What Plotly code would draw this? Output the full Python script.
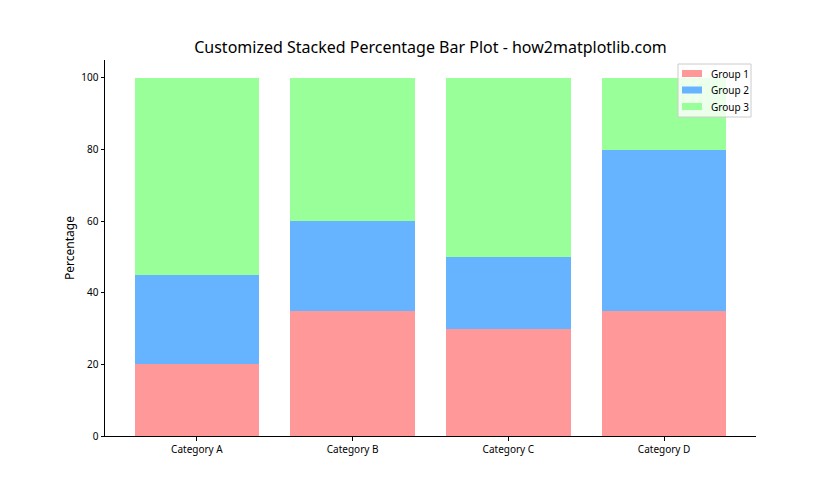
import plotly.graph_objects as go

categories = ["Category A", "Category B", "Category C", "Category D"]
group1 = [20, 35, 30, 35]
group2 = [25, 25, 20, 45]
group3 = [55, 40, 50, 20]
series_names = ["Group 1", "Group 2", "Group 3"]
colors = ["#ff9999", "#66b3ff", "#99ff99"]

# plot-area geometry in pixels (for legend placement)
W, H = 840, 490
L, R, T, B = 105, 84, 60, 54
PW, PH = W - L - R, H - T - B


def px_x(x):
    return (x - L) / PW


def px_y(y):
    return (H - B - y) / PH


fig = go.Figure()
for name, vals, c in zip(series_names, [group1, group2, group3], colors):
    fig.add_trace(go.Bar(x=list(range(len(categories))), y=vals, name=name,
                         marker=dict(color=c, line=dict(width=0)), width=0.8,
                         showlegend=False))

# manual matplotlib-style legend
shapes = [dict(type="rect", xref="paper", yref="paper",
               x0=px_x(678), x1=px_x(751), y0=px_y(117), y1=px_y(64),
               fillcolor="rgba(255,255,255,0.8)", line=dict(color="#cccccc", width=1),
               layer="above")]
annotations = []
for i, (name, c) in enumerate(zip(series_names, colors)):
    yc = 73.5 + i * 16.5
    shapes.append(dict(type="rect", xref="paper", yref="paper",
                       x0=px_x(682), x1=px_x(702), y0=px_y(yc + 3.5), y1=px_y(yc - 3.5),
                       fillcolor=c, line=dict(width=0), layer="above"))
    annotations.append(dict(xref="paper", yref="paper", x=px_x(709), y=px_y(yc),
                            xanchor="left", yanchor="middle", text=name, showarrow=False,
                            font=dict(size=10, color="black")))

font = "Noto Sans, DejaVu Sans, sans-serif"
fig.update_layout(
    barmode="stack",
    width=W, height=H,
    margin=dict(l=L, r=R, t=T, b=B),
    paper_bgcolor="white", plot_bgcolor="white",
    font=dict(family=font, size=10, color="black"),
    title=dict(text="Customized Stacked Percentage Bar Plot - how2matplotlib.com",
               xref="paper", x=0.5, xanchor="center", y=0.904, yanchor="middle",
               font=dict(size=16, color="black")),
    shapes=shapes,
    annotations=annotations,
    showlegend=False,
)
fig.update_xaxes(range=[-0.59, 3.59], tickmode="array",
                 tickvals=list(range(len(categories))), ticktext=categories,
                 showline=True, linecolor="black", linewidth=1,
                 ticks="outside", ticklen=3.5, tickcolor="black",
                 showgrid=False, zeroline=False, tickfont=dict(size=10))
fig.update_yaxes(range=[0, 105], tickvals=[0, 20, 40, 60, 80, 100],
                 showline=True, linecolor="black", linewidth=1,
                 ticks="outside", ticklen=3.5, tickcolor="black",
                 showgrid=False, zeroline=False, tickfont=dict(size=10),
                 title=dict(text="Percentage", font=dict(size=12), standoff=4))

fig.write_html("out.html")
